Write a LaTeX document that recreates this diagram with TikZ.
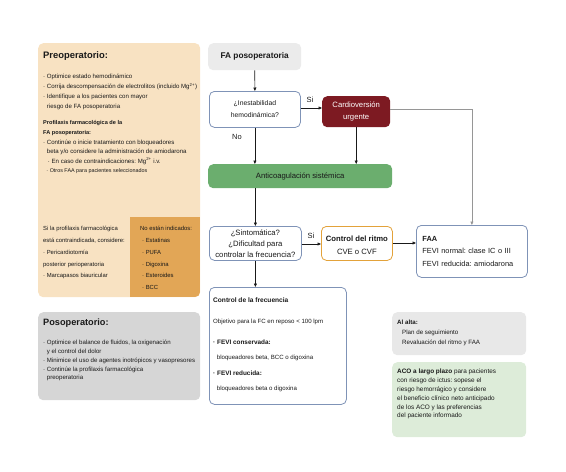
\documentclass[tikz,border=0pt]{standalone}
\usepackage{fontspec}
\setmainfont{Liberation Sans}
\usetikzlibrary{arrows.meta,calc}
\definecolor{preop}{RGB}{248,226,194}
\definecolor{preopdark}{RGB}{226,166,86}
\definecolor{posop}{RGB}{214,214,214}
\definecolor{fabox}{RGB}{235,235,235}
\definecolor{cardio}{RGB}{125,26,34}
\definecolor{antig}{RGB}{107,174,110}
\definecolor{alta}{RGB}{232,232,232}
\definecolor{aco}{RGB}{221,236,217}
\definecolor{bluebd}{RGB}{127,147,183}
\definecolor{orangebd}{RGB}{227,162,58}
\definecolor{txt}{RGB}{25,25,25}
\definecolor{graylink}{RGB}{150,150,150}
\newcommand{\fs}[2]{\fontsize{#1}{#2}\selectfont}
\begin{document}
\frenchspacing
\begin{tikzpicture}[x=1pt,y=-1pt,
  every node/.style={text=txt},
  boxshape/.style={rounded corners=5pt, anchor=north west, inner sep=0pt},
  panel/.style={boxshape, draw=none},
  decision/.style={boxshape, draw=bluebd, line width=0.8pt, fill=white, align=center},
  txtblock/.style={anchor=north west, inner sep=0pt, align=left},
  arr/.style={draw=txt, line width=0.6pt, -{Triangle[length=3.5pt,width=3pt]}},
  lbl/.style={inner sep=0pt, font=\fs{7.5}{8}}
]
\useasboundingbox (0,0) rectangle (566,472);

% ---------- Preoperatorio panel ----------
\node[panel, fill=preop, minimum width=162pt, minimum height=254pt] (preop) at (38,43) {};
\begin{scope}
  \clip[rounded corners=5pt] (38,43) rectangle (200,297);
  \fill[preopdark] (130,217) rectangle (200,297);
\end{scope}
\node[txtblock, anchor=west, font=\bfseries\fs{9.4}{11}] (preoptitle) at (43,56) {Preoperatorio:};
\node[txtblock, font=\fs{6.1}{10}] (preopA) at (43,74)
 {· Optimice estado hemodinámico\\
  · Corrija descompensación de electrolitos (incluido Mg\textsuperscript{2+})\\
  · Identifique a los pacientes con mayor\\
  \phantom{·} riesgo de FA posoperatoria};
\node[txtblock, font=\bfseries\fs{5.6}{9.2}] (preopB) at (43,120.5)
 {Profilaxis farmacológica de la\\ FA posoperatoria:};
\node[txtblock, font=\fs{6.1}{9.2}] (preopC) at (43,140)
 {· Continúe o inicie tratamiento con bloqueadores\\
  \phantom{·} beta y/o considere la administración de amiodarona\\
  \phantom{·}\, · En caso de contraindicaciones: Mg\textsuperscript{2+} i.v.\\
  {\fs{5.4}{9.2}\phantom{·} · Otros FAA para pacientes seleccionados}};
\node[txtblock, font=\fs{5.9}{11.8}] (preopD) at (43,226.2)
 {Si la profilaxis farmacológica\\
  está contraindicada, considere:\\
  · Pericardiotomía\\
  posterior perioperatoria\\
  · Marcapasos biauricular};
\node[txtblock, font=\fs{5.9}{11.8}] (preopE) at (140,226.2)
 {No están indicados:\\
  \phantom{·}· Estatinas\\
  \phantom{·}· PUFA\\
  \phantom{·}· Digoxina\\
  \phantom{·}· Esteroides\\
  \phantom{·}· BCC};

% ---------- Posoperatorio panel ----------
\node[panel, fill=posop, minimum width=162pt, minimum height=88pt] (posop) at (38,312) {};
\node[txtblock, anchor=west, font=\bfseries\fs{9.2}{11}] (posoptitle) at (43,323) {Posoperatorio:};
\node[txtblock, font=\fs{6.1}{8.8}] (posopA) at (43,340)
 {· Optimice el balance de fluidos, la oxigenación\\
  \phantom{·} y el control del dolor\\
  · Minimice el uso de agentes inotrópicos y vasopresores\\
  · Continúe la profilaxis farmacológica\\
  \phantom{·} preoperatoria};

% ---------- Flow ----------
\node[boxshape, fill=fabox, minimum width=93pt, minimum height=27pt, font=\bfseries\fs{8.3}{9}] (fa) at (208,43) {FA posoperatoria};
\node[decision, minimum width=91pt, minimum height=36pt, font=\fs{6.8}{12}] (inest) at (209,91) {¿Inestabilidad\\hemodinámica?};
\node[boxshape, fill=cardio, minimum width=68pt, minimum height=31pt, align=center, text=white, font=\fs{7.7}{12.5}] (cardiov) at (322,96) {Cardioversión\\urgente};
\node[boxshape, fill=antig, minimum width=184pt, minimum height=24pt, font=\fs{7.7}{8}] (anti) at (208,164) {Anticoagulación sistémica};
\node[decision, minimum width=92pt, minimum height=34pt, font=\fs{7.7}{11}] (sint) at (209,226) {¿Sintomática?\\¿Dificultad para\\controlar la frecuencia?};
\node[decision, draw=orangebd, minimum width=71pt, minimum height=34pt, font=\fs{7.7}{12.5}] (ritmo) at (321,226) {\rule{0pt}{9pt}\textbf{Control del ritmo}\\CVE o CVF};
\node[decision, minimum width=111pt, minimum height=52pt, align=left, text width=99pt, inner xsep=6pt, font=\fs{7.4}{12.5}] (faa) at (416,225)
 {\textbf{FAA}\\FEVI normal: clase IC o III\\FEVI reducida: amiodarona};
\node[decision, minimum width=137pt, minimum height=117pt] (frec) at (209,287) {};
\node[txtblock, font=\fs{6.1}{7}] (frectxt) at (213,297.8)
 {\textbf{\fs{6.6}{7}Control de la frecuencia}\\[14pt]
  Objetivo para la FC en reposo < 100 lpm\\[14pt]
  \textbf{\fs{6.4}{7}· FEVI conservada:}\\[7.5pt]
  \phantom{·} bloqueadores beta, BCC o digoxina\\[9pt]
  \textbf{\fs{6.4}{7}· FEVI reducida:}\\[8pt]
  \phantom{·} bloqueadores beta o digoxina};

% ---------- Right panels ----------
\node[panel, fill=alta, minimum width=134pt, minimum height=43pt] (alta) at (392,312) {};
\node[txtblock, font=\fs{6.2}{10}] (altatxt) at (397,320)
 {\textbf{Al alta:}\\
  \hspace{5pt}Plan de seguimiento\\
  \hspace{5pt}Revaluación del ritmo y FAA};
\node[panel, fill=aco, minimum width=134pt, minimum height=75pt] (aco) at (392,362) {};
\node[txtblock, font=\fs{6.4}{8.8}] (acotxt) at (397,369)
 {\textbf{ACO a largo plazo} para pacientes\\
  con riesgo de ictus: sopese el\\
  riesgo hemorrágico y considere\\
  el beneficio clínico neto anticipado\\
  de los ACO y las preferencias\\
  del paciente informado};

% ---------- Connectors ----------
\draw[arr] (fa.south) -- (inest.north);
\draw[arr] (inest.east |- 0,108) -- (cardiov.west |- 0,108);
\draw[arr] (inest.south) -- (inest.south |- anti.north);
\draw[arr] (cardiov.south) -- (cardiov.south |- anti.north);
\draw[arr, draw=graylink] (cardiov.east |- 0,109) -| (faa.north);
\draw[arr] (sint.north |- anti.south) -- (sint.north);
\draw[arr] (sint.east |- 0,244) -- (ritmo.west |- 0,244);
\draw[arr] (ritmo.east |- 0,243) -- (faa.west |- 0,243);
\draw[arr] (sint.south) -- (sint.south |- frec.north);

\node[lbl] (si1) at (310,100) {Si};
\node[lbl] (no1) at (237,137) {No};
\node[lbl] (si2) at (311,236) {Si};
\end{tikzpicture}
\end{document}
